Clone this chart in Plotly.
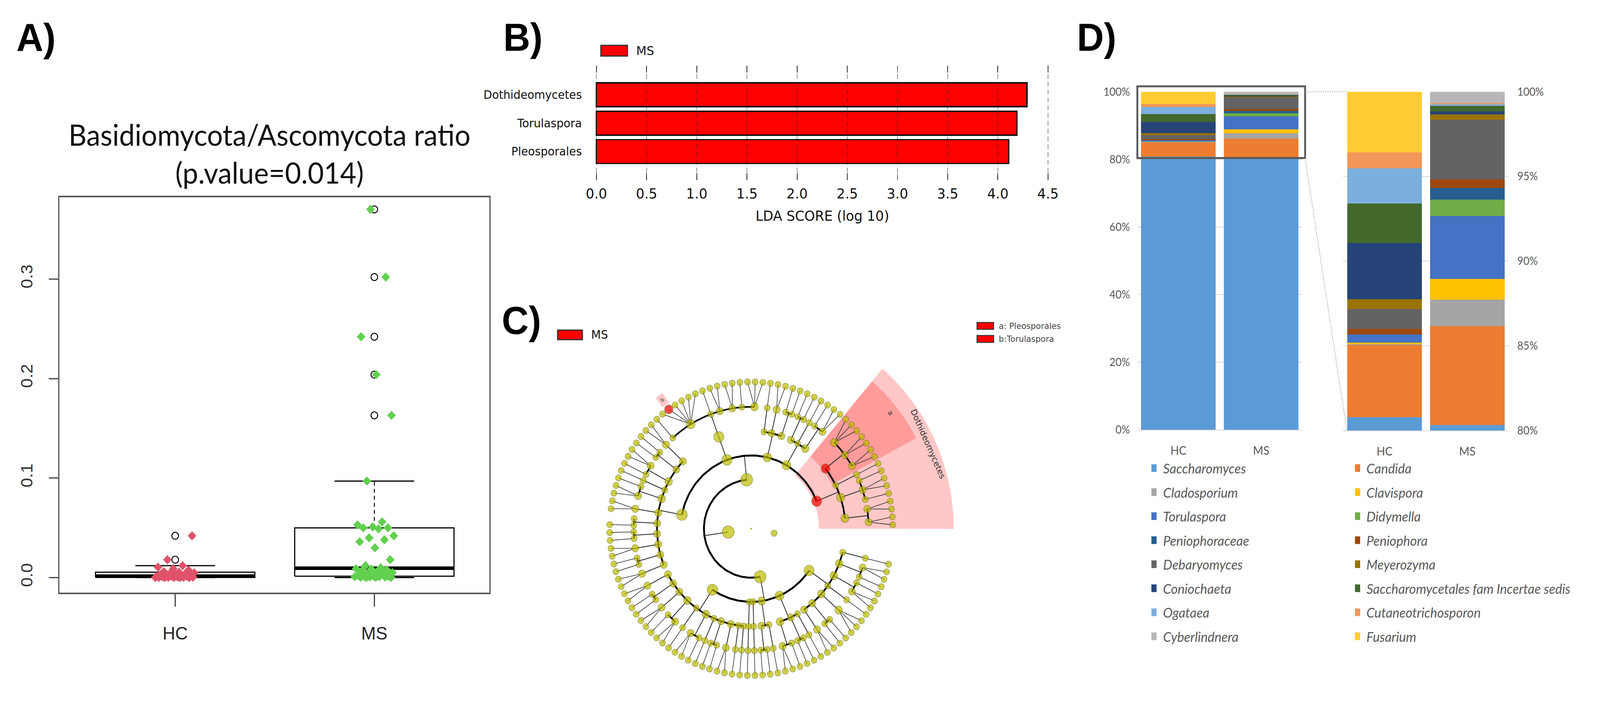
import numpy as np
import plotly.graph_objects as go

W, H = 4295, 1797


def px(x):
    return x / W


def py(y):
    return 1 - y / H


# ======================= DATA =======================
# Panel A : Basidiomycota/Ascomycota ratio
box_groups = ["HC", "MS"]
hc_ratio = [0.0, 0.0, 0.0, 0.0, 0.0001, 0.0001, 0.0002, 0.0002, 0.0004, 0.0006,
            0.0008, 0.001, 0.0012, 0.0014, 0.0015, 0.0016, 0.002, 0.0025, 0.003, 0.0035,
            0.004, 0.0048, 0.0054, 0.006, 0.0075, 0.009, 0.0105, 0.012, 0.018, 0.042]
ms_ratio = [0.0, 0.0001, 0.0002, 0.0003, 0.0005, 0.0007, 0.0009, 0.001, 0.0012, 0.0013,
            0.0015, 0.002, 0.003, 0.004, 0.005, 0.006, 0.007, 0.008, 0.0085, 0.009,
            0.010, 0.012, 0.018, 0.030, 0.036, 0.038, 0.040, 0.042, 0.049, 0.050,
            0.050, 0.051, 0.053, 0.056, 0.097, 0.163, 0.204, 0.242, 0.302, 0.370]
ratio_ticks = [0.0, 0.1, 0.2, 0.3]
ratio_title = "Basidiomycota/Ascomycota ratio<br>(p.value=0.014)"

# Panel B : LEfSe LDA scores
lda_taxa = ["Pleosporales", "Torulaspora", "Dothideomycetes"]
lda_score = [4.11, 4.19, 4.29]
lda_ticks = [0.0, 0.5, 1.0, 1.5, 2.0, 2.5, 3.0, 3.5, 4.0, 4.5]

# Panel C : cladogram topology (kingdom > phylum > class > order > family > genus)
# an int k = node with k terminal children, a list = node with those children
dothideo = ("Dothideomycetes", [[2, 2], [1, 2, 1], [1], ("Pleosporales", [2, 2, 3])])
class_a = [[2, 1], [1], [1, 1]]
class_b = [[1, 1], [2], [1]]
saccharomycetes = [[3, 1, 2, 2, 1, [0, 0, 0, 0, ("Torulaspora", 0), 0], 1]]
class_c = [[2], [1, 1], [2, 1], [1], [1, 2], [2], [0, 1], [1, 1], [2], [1, 1], [2]]
class_d = [[2], [1, 1], [2], [1, 2], [1], [2, 1], [1], [1, 1], [2], [1], [1]]
class_e = [[1]]
class_f = [[1]]
class_g = [[1, 1], [1]]
class_h = [[2, 1], [1, 1], [1]]
class_i = [[2], [1, 1], [3], [1], [2, 1], [1, 2], [1]]
phylum_1 = [dothideo, class_a, class_b, saccharomycetes, class_c]
phylum_2 = [class_d, class_e, class_f, class_g, class_h, class_i]
tree_spec = [[phylum_1, phylum_2], 0]
enriched_ms = ["Dothideomycetes", "Pleosporales", "Torulaspora"]

# Panel D : relative abundance (%)
genera = ["Saccharomyces", "Candida", "Cladosporium", "Clavispora", "Torulaspora",
          "Didymella", "Peniophoraceae", "Peniophora", "Debaryomyces", "Meyerozyma",
          "Coniochaeta", "Saccharomycetales fam Incertae sedis", "Ogataea",
          "Cutaneotrichosporon", "Cyberlindnera", "Fusarium"]
hc_abund = [80.79, 4.26, 0.05, 0.10, 0.47, 0.0, 0.0, 0.32, 1.19, 0.56,
            3.33, 2.33, 2.08, 0.94, 0.0, 3.58]
ms_abund = [80.32, 5.84, 1.57, 1.21, 3.73, 0.96, 0.70, 0.51, 3.49, 0.32,
            0.19, 0.33, 0.08, 0.08, 0.67, 0.0]
abund_groups = ["HC", "MS"]

# ======================= STYLES =======================
genus_colors = ["#5B9BD5", "#ED7D31", "#A5A5A5", "#FFC000", "#4472C4", "#70AD47",
                "#255E91", "#9E480E", "#636363", "#997300", "#264478", "#43682B",
                "#7CAFDD", "#F1975A", "#B7B7B7", "#FFCD33"]
group_colors = ["#DF536B", "#61D04F"]
F_ARIAL = "Liberation Sans Narrow, Liberation Sans, Arial"
F_ARIAL_W = "Liberation Sans, Arial"
F_DEJAVU = "DejaVu Sans"
F_CAL = "Lato, Open Sans"

fig = go.Figure()
shapes = []
annotations = []


def label(x, y, text, size, family, color="#000", xanchor="center", yanchor="middle",
          angle=0, xref="paper", yref="paper", **kw):
    annotations.append(dict(x=x, y=y, xref=xref, yref=yref, text=text, showarrow=False,
                            xanchor=xanchor, yanchor=yanchor, textangle=angle,
                            font=dict(size=size, family=family, color=color), **kw))


# ======================= PANEL A =======================
def boxstats(v, coef=1.5):
    x = np.sort(np.asarray(v, float))
    n = len(x)
    n4 = np.floor((n + 3) / 2) / 2
    d = np.array([1, n4, (n + 1) / 2, n + 1 - n4, n]) - 1
    fn = 0.5 * (x[np.floor(d).astype(int)] + x[np.ceil(d).astype(int)])
    iqr = fn[3] - fn[1]
    inside = x[(x >= fn[1] - coef * iqr) & (x <= fn[3] + coef * iqr)]
    lo, hi = inside.min(), inside.max()
    out = x[(x < lo) | (x > hi)]
    return fn[1], fn[2], fn[3], lo, hi, out


for gi, (vals, col) in enumerate(zip([hc_ratio, ms_ratio], group_colors)):
    c = gi + 1
    q1, med, q3, lo, hi, out = boxstats(vals)
    bw, sw = 0.4, 0.2
    fig.add_trace(go.Scatter(x=[c - bw, c + bw, c + bw, c - bw, c - bw], y=[q1, q1, q3, q3, q1],
                             mode="lines", line=dict(color="#000", width=3), xaxis="x", yaxis="y"))
    fig.add_trace(go.Scatter(x=[c, c, None, c, c], y=[q3, hi, None, q1, lo], mode="lines",
                             line=dict(color="#000", width=2.5, dash="10px,8px"), xaxis="x", yaxis="y"))
    fig.add_trace(go.Scatter(x=[c - sw, c + sw, None, c - sw, c + sw], y=[hi, hi, None, lo, lo],
                             mode="lines", line=dict(color="#000", width=3), xaxis="x", yaxis="y"))
    fig.add_trace(go.Scatter(x=[c - bw, c + bw], y=[med, med], mode="lines",
                             line=dict(color="#000", width=9), xaxis="x", yaxis="y"))
    fig.add_trace(go.Scatter(x=[c] * len(out), y=out, mode="markers",
                             marker=dict(symbol="circle-open", size=18, color="#000",
                                         line=dict(width=2.5)), xaxis="x", yaxis="y"))
    n = len(vals)
    jit = ((np.arange(n) * 0.6180339887 + 0.3 * gi) % 1 - 0.5) * 0.2
    fig.add_trace(go.Scatter(x=c + jit, y=vals, mode="markers",
                             marker=dict(symbol="diamond", size=18, color=col, line=dict(width=0)),
                             xaxis="x", yaxis="y"))

label(px(709), py(382), ratio_title, 75, F_CAL, "#111")
label(px(22), py(80), "<b>A)</b>", 100, F_ARIAL, xanchor="left")

# ======================= PANEL B =======================
fig.add_trace(go.Bar(x=lda_score, y=list(range(len(lda_taxa))), orientation="h", width=0.84,
                     marker=dict(color="#FF0000", line=dict(color="#111", width=3.5)),
                     xaxis="x2", yaxis="y2"))
for t in lda_ticks:
    shapes.append(dict(type="line", xref="x2", yref="y2 domain", x0=t, x1=t, y0=0, y1=1,
                       line=dict(color="rgba(40,40,40,0.55)", width=2, dash="12px,8px"),
                       layer="above"))
label(2.25, py(545), "LDA SCORE (log 10)", 36, F_DEJAVU, "#111", xref="x2")
label(px(1340), py(78), "<b>B)</b>", 100, F_ARIAL, xanchor="left")
shapes.append(dict(type="rect", xref="paper", yref="paper", x0=px(1606), x1=px(1678),
                   y0=py(128), y1=py(100), fillcolor="#FF0000", line=dict(color="#333", width=3)))
label(px(1700), py(114), "MS", 32, F_DEJAVU, "#111", xanchor="left")

# ======================= PANEL C =======================
RADII = [0, 63, 128, 191, 255, 318, 383]


def build(spec, level=0):
    name = None
    if isinstance(spec, tuple):
        name, spec = spec
    if isinstance(spec, int):
        kids = [build(0, level + 1) for _ in range(spec)]
    else:
        kids = [build(s, level + 1) for s in spec]
    return {"name": name, "level": level, "kids": kids}


root = build(tree_spec)
leaves = []


def collect(nd):
    if not nd["kids"]:
        leaves.append(nd)
    for k in nd["kids"]:
        collect(k)


collect(root)
theta0, theta_end = 1.5, 346.0
step = (theta_end - theta0) / (len(leaves) - 2)
for i, lf in enumerate(leaves):
    lf["theta"] = theta0 + i * step


def place(nd):
    if nd["kids"]:
        for k in nd["kids"]:
            place(k)
        ang = [k["theta"] for k in nd["kids"]]
        nd["theta"] = (min(ang) + max(ang)) / 2
        nd["n"] = sum(k["n"] for k in nd["kids"])
        nd["tmin"] = min(k["tmin"] for k in nd["kids"])
        nd["tmax"] = max(k["tmax"] for k in nd["kids"])
    else:
        nd["n"] = 1
        nd["tmin"] = nd["tmax"] = nd["theta"]
    nd["r"] = RADII[nd["level"]]


place(root)


def pol(r, t):
    t = np.radians(t)
    return r * np.cos(t), r * np.sin(t)


conn_x, conn_y, fan_x, fan_y = [], [], [], []
arcs = {}
nodes = []


def edges(nd):
    nodes.append(nd)
    if nd["kids"] and nd["level"] >= 1:
        rc = RADII[nd["level"] + 1]
        if nd["level"] <= 4:
            x0, y0 = pol(nd["r"], nd["theta"])
            x1, y1 = pol(rc, nd["theta"])
            conn_x.extend([x0, x1, None])
            conn_y.extend([y0, y1, None])
            ang = [k["theta"] for k in nd["kids"]] + [nd["theta"]]
            if max(ang) - min(ang) > 1e-6:
                tt = np.linspace(min(ang), max(ang), 80)
                ax_, ay_ = pol(rc, tt)
                lst = arcs.setdefault(nd["level"] + 1, ([], []))
                lst[0].extend(list(ax_) + [None])
                lst[1].extend(list(ay_) + [None])
        else:
            x0, y0 = pol(nd["r"], nd["theta"])
            for k in nd["kids"]:
                x1, y1 = pol(RADII[k["level"]], k["theta"])
                fan_x.extend([x0, x1, None])
                fan_y.extend([y0, y1, None])
    for k in nd["kids"]:
        edges(k)


edges(root)
found = {nd["name"]: nd for nd in nodes if nd["name"]}


def wedge(t0, t1, r0, r1):
    tt = np.linspace(t0, t1, 80)
    xo, yo = pol(r1, tt)
    xi, yi = pol(r0, tt[::-1])
    return np.concatenate([xo, xi, xo[:1]]), np.concatenate([yo, yi, yo[:1]])


hl = [("Dothideomycetes", RADII[3] - 8, 548), ("Pleosporales", RADII[4] - 8, 505),
      ("Torulaspora", 398, 428)]
for nm, r0, r1 in hl:
    nd = found[nm]
    wx, wy = wedge(nd["tmin"] - step / 2, nd["tmax"] + step / 2, r0, r1)
    fig.add_trace(go.Scatter(x=wx, y=wy, mode="lines", fill="toself",
                             fillcolor="rgba(255,0,0,0.22)", line=dict(width=0),
                             xaxis="x3", yaxis="y3"))

fig.add_trace(go.Scatter(x=fan_x, y=fan_y, mode="lines", line=dict(color="#333", width=1.6),
                         xaxis="x3", yaxis="y3"))
fig.add_trace(go.Scatter(x=conn_x, y=conn_y, mode="lines", line=dict(color="#222", width=2),
                         xaxis="x3", yaxis="y3"))
arc_w = {2: 5, 3: 5, 4: 4.5, 5: 4}
for lev, (ax_, ay_) in arcs.items():
    fig.add_trace(go.Scatter(x=ax_, y=ay_, mode="lines", line=dict(color="#000", width=arc_w[lev]),
                             xaxis="x3", yaxis="y3"))

nx, ny, ns, nc = [], [], [], []
for nd in nodes:
    if nd["level"] == 0:
        continue
    x, y = pol(nd["r"], nd["theta"])
    s = min(32, 16 + 4 * np.log(nd["n"]))
    red = nd["name"] in enriched_ms
    nx.append(x); ny.append(y)
    ns.append(max(s, 23) if red else s)
    nc.append("#FF0000" if red else "#BDBD00")
fig.add_trace(go.Scatter(x=nx, y=ny, mode="markers",
                         marker=dict(size=ns, color=nc, line=dict(color="#5E5E00", width=1.2)),
                         xaxis="x3", yaxis="y3"))
fig.add_trace(go.Scatter(x=[0], y=[0], mode="markers", marker=dict(size=5, color="#BDBD00"),
                         xaxis="x3", yaxis="y3"))

# highlight labels
d = found["Dothideomycetes"]
tc = (d["tmin"] + d["tmax"]) / 2
lx, ly = pol(527, tc)
label(lx, ly, "Dothideomycetes", 22, F_DEJAVU, "#333", angle=90 - tc, xref="x3", yref="y3")
p = found["Pleosporales"]
tc = (p["tmin"] + p["tmax"]) / 2
lx, ly = pol(484, tc)
label(lx, ly, "a", 18, F_DEJAVU, "#333", angle=90 - tc, xref="x3", yref="y3")
t_ = found["Torulaspora"]
lx, ly = pol(413, t_["theta"])
label(lx, ly, "b", 13, F_DEJAVU, "#333", angle=90 - t_["theta"], xref="x3", yref="y3")

label(px(1336), py(817), "<b>C)</b>", 100, F_ARIAL, xanchor="left")
shapes.append(dict(type="rect", xref="paper", yref="paper", x0=px(1489), x1=px(1556),
                   y0=py(868), y1=py(843), fillcolor="#FF0000", line=dict(color="#333", width=3)))
label(px(1578), py(855), "MS", 30, F_DEJAVU, "#111", xanchor="left")
for i, txt in enumerate(["a: Pleosporales", "b:Torulaspora"]):
    yc = 832 + i * 34
    shapes.append(dict(type="rect", xref="paper", yref="paper", x0=px(2624), x1=px(2669),
                       y0=py(yc + 9), y1=py(yc - 9), fillcolor="#FF0000",
                       line=dict(color="#333", width=2.5)))
    label(px(2681), py(yc), txt, 22, F_DEJAVU, "#444", xanchor="left")

# ======================= PANEL D =======================
for i, g in enumerate(genera):
    for xa, ya in (("x4", "y4"), ("x5", "y5")):
        fig.add_trace(go.Bar(x=abund_groups, y=[hc_abund[i], ms_abund[i]], name=g,
                             marker=dict(color=genus_colors[i], line=dict(width=0)),
                             xaxis=xa, yaxis=ya))

label(px(2893), py(78), "<b>D)</b>", 100, F_ARIAL, xanchor="left")
shapes.append(dict(type="rect", xref="paper", yref="paper", x0=px(3058), x1=px(3512),
                   y0=py(394), y1=py(207), line=dict(color="#595959", width=5)))
shapes.append(dict(type="line", xref="paper", yref="paper", x0=px(3512), x1=px(3625),
                   y0=py(221), y1=py(221), line=dict(color="#A6A6A6", width=2, dash="dot")))
shapes.append(dict(type="line", xref="paper", yref="paper", x0=px(3512), x1=px(3625),
                   y0=py(394), y1=py(1105), line=dict(color="#A6A6A6", width=2, dash="dot")))
for i, g in enumerate(genera):
    row, colm = divmod(i, 2)
    yc = 1203 + row * 62.7
    xs = 3096 if colm == 0 else 3647
    shapes.append(dict(type="rect", xref="paper", yref="paper", x0=px(xs), x1=px(xs + 14),
                       y0=py(yc + 10), y1=py(yc - 10), fillcolor=genus_colors[i], line=dict(width=0)))
    label(px(xs + 29), py(yc), "<i>" + g + "</i>", 35, F_CAL, "#595959", xanchor="left")

# ======================= LAYOUT =======================
bx_left = -0.03
lda_px = 271.6
fig.update_layout(
    width=W, height=H, margin=dict(l=0, r=0, t=0, b=0),
    paper_bgcolor="white", plot_bgcolor="rgba(0,0,0,0)", showlegend=False,
    barmode="stack", bargap=0.1,
    shapes=shapes, annotations=annotations,
    font=dict(family=F_ARIAL_W, color="#000"),
    xaxis=dict(domain=[px(141), px(1304)], range=[0.4193, 2.577], anchor="y",
               tickvals=[1, 2], ticktext=box_groups, ticks="outside", ticklen=32, tickwidth=3,
               tickcolor="#444", showline=True, linecolor="#555", linewidth=4, mirror=True,
               showgrid=False, zeroline=False, ticklabelstandoff=28,
               tickfont=dict(family=F_ARIAL, size=47, color="#222")),
    yaxis=dict(domain=[py(1528), py(496)], range=[-0.0151, 0.3823], anchor="x",
               tickvals=ratio_ticks, ticktext=["%.1f" % v for v in ratio_ticks], tickangle=-90,
               ticks="outside", ticklen=25, tickwidth=3, tickcolor="#444", showline=True,
               linecolor="#555", linewidth=4, mirror=True, showgrid=False, zeroline=False,
               ticklabelstandoff=26, tickfont=dict(family=F_ARIAL_W, size=44, color="#333")),
    xaxis2=dict(domain=[px(1594 + bx_left * lda_px), px(1594 + 4.55 * lda_px)],
                range=[bx_left, 4.55], anchor="y2", tickvals=lda_ticks,
                ticktext=["%.1f" % v for v in lda_ticks], ticks="inside", ticklen=18,
                tickwidth=2, tickcolor="#333", mirror="ticks", showline=False, showgrid=False,
                zeroline=False, ticklabelstandoff=10,
                tickfont=dict(family=F_DEJAVU, size=36, color="#111")),
    yaxis2=dict(domain=[py(452), py(153)], range=[-1.0135, 3.027], anchor="x2",
                tickvals=list(range(len(lda_taxa))), ticktext=lda_taxa, ticks="",
                showline=False, showgrid=False, zeroline=False, ticklabelstandoff=30,
                tickfont=dict(family=F_DEJAVU, size=30, color="#111")),
    xaxis3=dict(domain=[px(1450), px(2600)], range=[1450 - 2013, 2600 - 2013], visible=False,
                anchor="y3"),
    yaxis3=dict(domain=[0, py(750)], range=[1361 - 1797, 1361 - 750], visible=False,
                anchor="x3"),
    xaxis4=dict(domain=[px(3057), px(3505)], anchor="y4", showline=True, linecolor="#D9D9D9",
                linewidth=2, ticks="", showgrid=False, ticklabelstandoff=26,
                tickfont=dict(family=F_CAL, size=30, color="#595959")),
    yaxis4=dict(domain=[py(1103), py(221)], range=[0, 100], anchor="x4", dtick=20,
                ticksuffix="%", showgrid=True, gridcolor="#D9D9D9", gridwidth=2, zeroline=False,
                showline=False, ticklabelstandoff=18,
                tickfont=dict(family=F_CAL, size=28, color="#595959")),
    xaxis5=dict(domain=[px(3615), px(4063)], anchor="y5", showline=True, linecolor="#D9D9D9",
                linewidth=2, ticks="", showgrid=False, ticklabelstandoff=26,
                tickfont=dict(family=F_CAL, size=30, color="#595959")),
    yaxis5=dict(domain=[py(1105), py(221)], range=[80, 100], anchor="x5", side="right",
                dtick=5, ticksuffix="%", showgrid=True, gridcolor="#D9D9D9", gridwidth=2,
                zeroline=False, showline=False, ticklabelstandoff=22,
                tickfont=dict(family=F_CAL, size=28, color="#595959")),
)

# fit the fixed-size figure exactly into the browser viewport
fit_js = ("document.documentElement.style.overflow='hidden';"
          "document.body.style.margin='0';document.body.style.overflow='hidden';"
          "var gd=document.getElementById('{plot_id}');"
          "var sx=window.innerWidth/%d, sy=window.innerHeight/%d;"
          "gd.style.transformOrigin='0 0';"
          "gd.style.transform='scale('+sx+','+sy+')';" % (W, H))
fig.write_html("out.html", post_script=fit_js, config={"displayModeBar": False})
